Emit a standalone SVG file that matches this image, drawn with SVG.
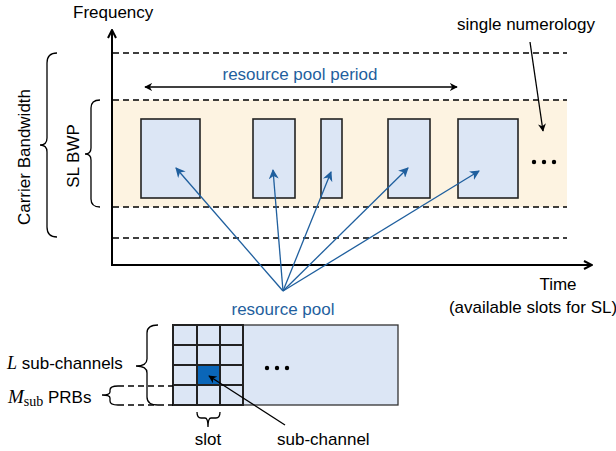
<svg xmlns="http://www.w3.org/2000/svg" width="616" height="451" viewBox="0 0 616 451">
<defs>
<marker id="ah" viewBox="0 0 10 10" refX="9" refY="5" markerWidth="8" markerHeight="8" markerUnits="userSpaceOnUse" orient="auto">
<path d="M0,0 L10,5 L0,10 L3,5 Z" fill="#000"/>
</marker>
<marker id="ax" viewBox="0 0 10 10" refX="9" refY="5" markerWidth="10" markerHeight="10" markerUnits="userSpaceOnUse" orient="auto">
<path d="M1,1 L9,5 L1,9" fill="none" stroke="#000" stroke-width="2"/>
</marker>
<marker id="bh" viewBox="0 0 10 10" refX="9" refY="5" markerWidth="10" markerHeight="10" markerUnits="userSpaceOnUse" orient="auto">
<path d="M0,0 L10,5 L0,10 L3,5 Z" fill="#1F5F9E"/>
</marker>
</defs>
<style>
text{font-family:"Liberation Sans",Arial,sans-serif;font-size:17px;fill:#000}
.blue{fill:#1F5F9E}
.dash{stroke:#000;stroke-width:1.3;stroke-dasharray:6,4;fill:none}
.pool{fill:#DCE6F5;stroke:#222;stroke-width:1.6}
.brace{fill:none;stroke:#000;stroke-width:1.3}
.bl{stroke:#1F5F9E;stroke-width:1.3;fill:none;marker-end:url(#bh)}
.math{font-family:"Liberation Serif","Times New Roman",serif}
</style>

<g id="bwp-band">
<rect x="113" y="100" width="454" height="107" fill="#FDF3E1"/>
</g>

<g id="grid-lines">
<line class="dash" x1="113" y1="53" x2="567" y2="53"/>
<line class="dash" x1="113" y1="100" x2="567" y2="100"/>
<line class="dash" x1="113" y1="207" x2="567" y2="207"/>
<line class="dash" x1="113" y1="238" x2="567" y2="238"/>
</g>

<g id="axes">
<line x1="112" y1="266" x2="112" y2="30" stroke="#000" stroke-width="2" marker-end="url(#ax)"/>
<line x1="111" y1="265" x2="592" y2="265" stroke="#000" stroke-width="2" marker-end="url(#ax)"/>
<text x="73" y="18">Frequency</text>
<text x="558" y="290" text-anchor="middle">Time</text>
<text x="533" y="313" text-anchor="middle" font-size="16">(available slots for SL)</text>
</g>

<g id="carrier-bw">
<path class="brace" d="M57,53 Q47,53 47,63 L47,138 Q47,145 40,145 Q47,145 47,152 L47,227 Q47,237 57,237"/>
<text transform="translate(30,157) rotate(-90)" text-anchor="middle">Carrier Bandwidth</text>
</g>

<g id="sl-bwp">
<path class="brace" d="M100,100 Q91,100 91,108 L91,148 Q91,154 85,154 Q91,154 91,160 L91,199 Q91,207 100,207"/>
<text transform="translate(79,156) rotate(-90)" text-anchor="middle">SL BWP</text>
</g>

<g id="pool-period">
<line x1="300" y1="87" x2="145" y2="87" stroke="#000" stroke-width="1.3" marker-end="url(#ah)"/>
<line x1="300" y1="87" x2="457" y2="87" stroke="#000" stroke-width="1.3" marker-end="url(#ah)"/>
<text class="blue" x="300" y="80" text-anchor="middle">resource pool period</text>
</g>

<g id="single-numerology">
<text x="457" y="30">single numerology</text>
<line x1="530" y1="42" x2="543" y2="131" stroke="#000" stroke-width="1.3" marker-end="url(#ah)"/>
</g>

<g id="pool1"><rect class="pool" x="141" y="119" width="59" height="79"/></g>
<g id="pool2"><rect class="pool" x="253" y="119" width="42" height="79"/></g>
<g id="pool3"><rect class="pool" x="321" y="119" width="21" height="79"/></g>
<g id="pool4"><rect class="pool" x="388" y="119" width="42" height="79"/></g>
<g id="pool5"><rect class="pool" x="458" y="119" width="60" height="79"/></g>
<g id="dots-top">
<circle cx="534" cy="162" r="2.2"/>
<circle cx="544" cy="162" r="2.2"/>
<circle cx="554" cy="162" r="2.2"/>
</g>

<g id="resource-pool-label">
<text class="blue" x="283" y="315" text-anchor="middle">resource pool</text>
</g>

<g id="pool-detail">
<rect x="173" y="325" width="225" height="80" fill="#DCE6F5" stroke="#333" stroke-width="1.3"/>
<rect x="197" y="365" width="23" height="20" fill="#0A66B8"/>
<g stroke="#222" stroke-width="2" fill="none">
<rect x="173" y="325" width="70" height="80"/>
<line x1="197" y1="325" x2="197" y2="405"/>
<line x1="220" y1="325" x2="220" y2="405"/>
<line x1="173" y1="345" x2="243" y2="345"/>
<line x1="173" y1="365" x2="243" y2="365"/>
<line x1="173" y1="385" x2="243" y2="385"/>
</g>
<circle cx="267" cy="368" r="2.2"/>
<circle cx="277" cy="368" r="2.2"/>
<circle cx="287" cy="368" r="2.2"/>
</g>

<g id="connectors">
<line class="bl" x1="283" y1="291" x2="176" y2="168"/>
<line class="bl" x1="283" y1="291" x2="273" y2="170"/>
<line class="bl" x1="283" y1="291" x2="331" y2="172"/>
<line class="bl" x1="283" y1="291" x2="408" y2="168"/>
<line class="bl" x1="283" y1="291" x2="479" y2="171"/>
<line x1="285" y1="425" x2="209" y2="376" stroke="#000" stroke-width="1.3" marker-end="url(#ah)"/>
</g>

<g id="l-subchannels">
<path class="brace" d="M158,325 Q147,325 147,333 L147,359 Q147,366 136,366 Q147,366 147,373 L147,397 Q147,405 158,405"/>
<text x="7" y="369"><tspan class="math" font-style="italic" font-size="18">L</tspan> sub-channels</text>
</g>

<g id="m-sub">
<line class="dash" x1="118" y1="386" x2="173" y2="386"/>
<line class="dash" x1="118" y1="405" x2="173" y2="405"/>
<path class="brace" d="M118,386 Q110,386 110,390 L110,392 Q110,395 102,395 Q110,395 110,398 L110,401 Q110,405 118,405"/>
<text x="8" y="403"><tspan class="math" font-style="italic" font-size="19">M</tspan><tspan class="math" font-size="14" dy="3">sub</tspan><tspan dy="-3"> PRBs</tspan></text>
</g>

<g id="slot">
<path class="brace" d="M197,412 Q197,418 201,418 L205,418 Q208,418 208,427 Q208,418 211,418 L216,418 Q220,418 220,412"/>
<text x="208" y="445" text-anchor="middle">slot</text>
</g>

<g id="sub-channel">
<text x="277" y="445">sub-channel</text>
</g>
</svg>
